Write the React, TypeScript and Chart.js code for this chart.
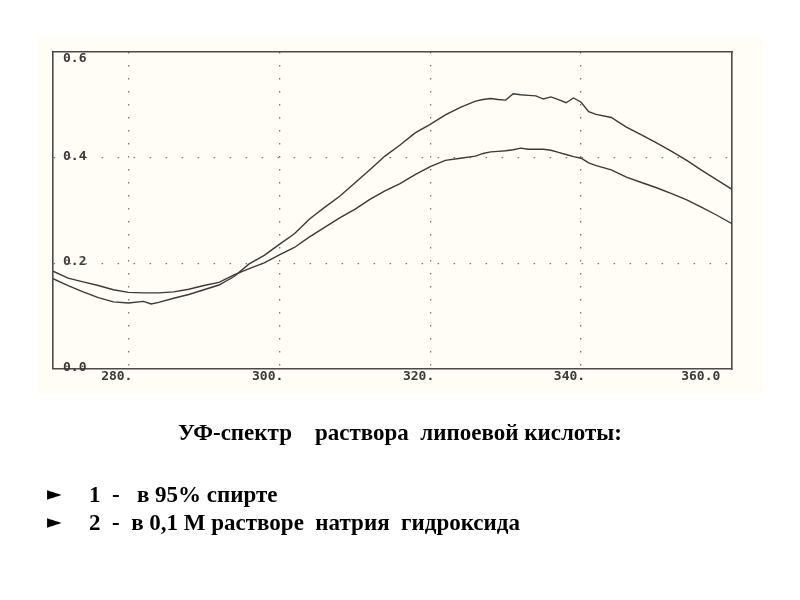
import React, { useEffect, useRef } from "react";
import { Chart, registerables } from "chart.js";

Chart.register(...registerables);

// Wavelength, nm
const WAVELENGTHS = [
  270, 272, 274, 276, 278, 280, 282, 283, 284, 286, 288, 290, 292, 294, 296, 298,
  300, 302, 304, 306, 308, 310, 312, 314, 316, 318, 320, 322, 324, 326, 327, 328,
  329, 330, 331, 332, 333, 334, 335, 336, 337, 338, 339, 340, 341, 342, 344, 346,
  348, 350, 352, 354, 356, 358, 360,
];

// Curve with the higher maximum
const SERIES_1 = [
  0.171, 0.158, 0.146, 0.135, 0.127, 0.125, 0.128, 0.123, 0.126, 0.134, 0.141, 0.150, 0.159, 0.175, 0.199, 0.215,
  0.236, 0.256, 0.284, 0.306, 0.327, 0.352, 0.377, 0.403, 0.424, 0.447, 0.463, 0.481, 0.495, 0.507, 0.510, 0.512,
  0.510, 0.509, 0.521, 0.519, 0.518, 0.517, 0.511, 0.515, 0.510, 0.504, 0.513, 0.505, 0.487, 0.482, 0.476, 0.458,
  0.443, 0.428, 0.412, 0.395, 0.376, 0.358, 0.340,
];

// Curve with the lower maximum
const SERIES_2 = [
  0.185, 0.172, 0.165, 0.158, 0.150, 0.145, 0.144, 0.144, 0.144, 0.146, 0.151, 0.158, 0.164, 0.178, 0.190, 0.201,
  0.216, 0.230, 0.250, 0.268, 0.286, 0.302, 0.321, 0.337, 0.351, 0.368, 0.383, 0.395, 0.399, 0.403, 0.408, 0.411,
  0.412, 0.413, 0.415, 0.418, 0.416, 0.416, 0.416, 0.414, 0.410, 0.406, 0.402, 0.399, 0.390, 0.385, 0.377, 0.363,
  0.353, 0.343, 0.332, 0.320, 0.306, 0.291, 0.275,
];

const X_TICKS = [280, 300, 320, 340, 360];
const X_TICK_LABELS = ["280.", "300.", "320.", "340.", "360.0  "];
const Y_TICKS = [0, 0.2, 0.4, 0.6];
const Y_TICK_LABELS = ["0.0", "0.2", "0.4", "0.6"];

const TITLE = "УФ-спектр    раствора  липоевой кислоты:";
const ITEMS = ["1  -   в 95% спирте", "2  -  в 0,1 М растворе  натрия  гидроксида"];

const AXIS_COLOR = "#4a4a4a";
const TICK_FONT = { family: "'DejaVu Sans Mono', monospace", size: 13, weight: "bold" as const, lineHeight: "16px" };

export default function App() {
  const canvasRef = useRef<HTMLCanvasElement | null>(null);

  useEffect(() => {
    if (!canvasRef.current) return;
    const chart = new Chart(canvasRef.current, {
      type: "line",
      data: {
        datasets: [
          {
            label: "1",
            data: WAVELENGTHS.map((x, i) => ({ x, y: SERIES_1[i] })),
            borderColor: "#3a3a3a",
            borderWidth: 1.4,
            pointRadius: 0,
            tension: 0,
            xAxisID: "x",
            yAxisID: "y",
          },
          {
            label: "2",
            data: WAVELENGTHS.map((x, i) => ({ x, y: SERIES_2[i] })),
            borderColor: "#3a3a3a",
            borderWidth: 1.4,
            pointRadius: 0,
            tension: 0,
            xAxisID: "x",
            yAxisID: "y",
          },
        ],
      },
      options: {
        animation: false,
        responsive: false,
        maintainAspectRatio: false,
        events: [],
        layout: { padding: { left: 33, top: 52, right: 68, bottom: 215 } },
        plugins: { legend: { display: false }, tooltip: { enabled: false }, title: { display: false } },
        scales: {
          x: {
            type: "linear",
            position: "bottom",
            min: 270,
            max: 360,
            afterBuildTicks: (scale: any) => {
              scale.ticks = X_TICKS.map((v) => ({ value: v }));
            },
            grid: {
              drawTicks: false,
              color: "#777",
              lineWidth: (ctx: any) => (ctx.tick && ctx.tick.value >= 360 ? 0 : 1.3),
            },
            border: { display: true, color: AXIS_COLOR, width: 1.6, dash: [1.5, 11.5] },
            ticks: {
              align: "end",
              labelOffset: 4,
              padding: 0,
              color: "#3a3a3a",
              font: TICK_FONT,
              maxRotation: 0,
              autoSkip: false,
              callback: (value: any, index: number) => X_TICK_LABELS[index],
            },
          },
          y: {
            type: "linear",
            position: "left",
            min: 0,
            max: 0.6,
            afterBuildTicks: (scale: any) => {
              scale.ticks = Y_TICKS.map((v) => ({ value: v }));
            },
            grid: {
              drawTicks: false,
              color: "#777",
              lineWidth: (ctx: any) =>
                ctx.tick && (ctx.tick.value <= 0 || ctx.tick.value >= 0.6) ? 0 : 1.3,
            },
            border: { display: true, color: AXIS_COLOR, width: 1.6, dash: [1.5, 14.5] },
            ticks: {
              mirror: true,
              padding: 10,
              labelOffset: -1.5,
              color: "#3a3a3a",
              font: TICK_FONT,
              autoSkip: false,
              callback: (value: any, index: number) =>
                index === Y_TICKS.length - 1 ? ["", Y_TICK_LABELS[index]] : Y_TICK_LABELS[index],
            },
          },
          x2: {
            type: "linear",
            position: "top",
            min: 270,
            max: 360,
            grid: { display: false, drawTicks: false },
            border: { display: true, color: AXIS_COLOR, width: 1.6 },
            ticks: { display: false },
          },
          y2: {
            type: "linear",
            position: "right",
            min: 0,
            max: 0.6,
            grid: { display: false, drawTicks: false },
            border: { display: true, color: AXIS_COLOR, width: 1.6 },
            ticks: { display: false },
          },
        },
      },
    });
    return () => chart.destroy();
  }, []);

  const textFont = "'Liberation Serif', 'Times New Roman', serif";

  return (
    <div style={{ position: "fixed", left: 0, top: 0, width: 800, height: 600, background: "#ffffff", overflow: "hidden" }}>
      <div style={{ position: "absolute", left: 37, top: 37, width: 726, height: 357, background: "#fffdf6" }} />
      <canvas ref={canvasRef} width={800} height={600} style={{ position: "absolute", left: 0, top: 0, width: 800, height: 600 }} />
      <div
        style={{
          position: "absolute",
          left: 0,
          top: 419,
          width: 800,
          textAlign: "center",
          fontFamily: textFont,
          fontWeight: "bold",
          fontSize: 23,
          lineHeight: "28px",
          whiteSpace: "pre",
          color: "#000",
        }}
      >
        {TITLE}
      </div>
      {ITEMS.map((t, i) => (
        <div key={i} style={{ position: "absolute", left: 0, top: 481 + i * 28, width: 800, height: 28 }}>
          <span
            style={{
              position: "absolute",
              left: 47,
              top: 1,
              fontFamily: "'DejaVu Sans', sans-serif",
              fontSize: 19,
              lineHeight: "22px",
              color: "#000",
            }}
          >
            ►
          </span>
          <span
            style={{
              position: "absolute",
              left: 89,
              top: 0,
              fontFamily: textFont,
              fontWeight: "bold",
              fontSize: 23,
              lineHeight: "28px",
              whiteSpace: "pre",
              color: "#000",
            }}
          >
            {t}
          </span>
        </div>
      ))}
    </div>
  );
}
